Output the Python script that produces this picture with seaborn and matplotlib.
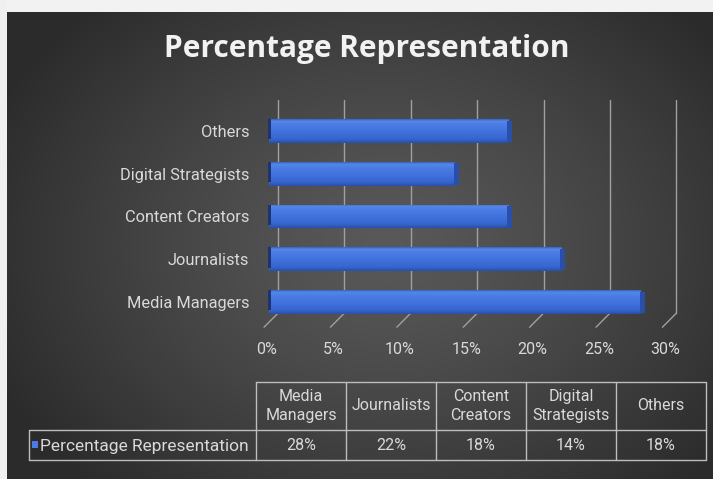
import numpy as np
import pandas as pd
import matplotlib
matplotlib.use("Agg")
import matplotlib.pyplot as plt
from matplotlib.patches import Rectangle
import seaborn as sns

# Chart data
categories = ["Media Managers", "Journalists", "Content Creators", "Digital Strategists", "Others"]
header_labels = ["Media\nManagers", "Journalists", "Content\nCreators", "Digital\nStrategists", "Others"]
values = [28, 22, 18, 14, 18]
x_ticks = [0, 5, 10, 15, 20, 25, 30]
x_tick_labels = ["0%", "5%", "10%", "15%", "20%", "25%", "30%"]
series_name = "Percentage Representation"
title_text = "Percentage Representation"

sns.set_style("white")
plt.rcParams["font.family"] = ["Roboto", "DejaVu Sans"]

W, H = 713, 479
fig = plt.figure(figsize=(W / 100, H / 100), dpi=100)

# Background: dark radial gradient with a light margin on top and left
bg = fig.add_axes([0, 0, 1, 1], zorder=-10)
yy, xx = np.mgrid[0:H, 0:W]
r = np.sqrt(((xx - 385) / 430.0) ** 2 + ((yy - 245) / 330.0) ** 2)
t = np.clip(r, 0, 1) ** 1.25
inner, outer = 0x59 / 255, 0x2b / 255
g = inner + (outer - inner) * t
img = np.dstack([g, g, g])
img[:12, :, :] = 0xf2 / 255
img[:, :7, :] = 0xf0 / 255
bg.imshow(img, extent=[0, W, H, 0], aspect="auto", interpolation="bilinear")
bg.set_xlim(0, W)
bg.set_ylim(H, 0)
bg.axis("off")

# Main bar axes, placed in pixel space
PX_PER_PCT = 13.28
X0_PX = 269.0
Y0_PX, Y_STEP = 131.0, 42.75
xlim = (-1.5, 32.0)
ylim = (4.75, -0.9)
left_px = X0_PX + xlim[0] * PX_PER_PCT
right_px = X0_PX + xlim[1] * PX_PER_PCT
top_px = Y0_PX + ylim[1] * Y_STEP
bot_px = Y0_PX + ylim[0] * Y_STEP
ax = fig.add_axes([left_px / W, 1 - bot_px / H, (right_px - left_px) / W, (bot_px - top_px) / H])
ax.set_facecolor("none")

df = pd.DataFrame({"role": categories, "pct": values})
order = categories[::-1]
sns.barplot(data=df, y="role", x="pct", order=order, orient="h",
            color="#4172dc", width=0.56, ax=ax, zorder=3, saturation=1,
            linewidth=0, edgecolor="none")
ax.set_xlim(*xlim)
ax.set_ylim(*ylim)

# Gridlines drawn as back-wall verticals with slanted floor segments
back = 9 / PX_PER_PCT
front = -5 / PX_PER_PCT
for v in x_ticks:
    ax.plot([v + back, v + back], [-0.72, 4.26], color="#a0a0a0", lw=1.0, zorder=1)
    ax.plot([v + back, v + front], [4.26, 4.59], color="#a0a0a0", lw=1.0, zorder=1)

# Cylinder-like shading on every bar
stops = np.array([0.0, 0.08, 0.25, 0.55, 0.85, 1.0])
cols = np.array([
    [0x3a, 0x62, 0xbe],
    [0x55, 0x86, 0xea],
    [0x4b, 0x7c, 0xe4],
    [0x40, 0x71, 0xdc],
    [0x36, 0x64, 0xcc],
    [0x2a, 0x4f, 0xa6],
]) / 255
n = 64
s = np.linspace(0, 1, n)
grad = np.stack([np.interp(s, stops, cols[:, k]) for k in range(3)], axis=-1)[:, None, :]
for p in list(ax.patches):
    x0, y0, w, h = p.get_x(), p.get_y(), p.get_width(), p.get_height()
    im = ax.imshow(grad, extent=[x0, x0 + w, y0 + h, y0], aspect="auto",
                   interpolation="bilinear", zorder=4)
    im.set_clip_path(p)
    ax.add_patch(Rectangle((x0 + w - 0.1, y0 + 0.04), 0.4, h - 0.06,
                           color="#2a4fa8", zorder=5, lw=0))
    ax.add_patch(Rectangle((x0 - 0.05, y0), 0.2, h * 0.85, color="#1d3470", zorder=5, lw=0))
ax.set_xlim(*xlim)
ax.set_ylim(*ylim)

ax.set_xlabel("")
ax.set_ylabel("")
ax.set_xticks([v - 0.15 for v in x_ticks])
ax.set_xticklabels(x_tick_labels)
ax.tick_params(axis="x", length=0, pad=6, labelsize=11.5, labelcolor="#d9d9d9")
ax.tick_params(axis="y", length=0, pad=0, labelsize=11.8, labelcolor="#d9d9d9")
for sp in ax.spines.values():
    sp.set_visible(False)

# Overlay in pixel coordinates for the title and the data table
ov = fig.add_axes([0, 0, 1, 1], zorder=5)
ov.set_xlim(0, W)
ov.set_ylim(H, 0)
ov.axis("off")
ov.patch.set_alpha(0)

ov.text(367, 49, title_text, ha="center", va="center", fontsize=21.5, fontweight="bold",
        color="#f2f2f2", family=["Open Sans", "DejaVu Sans"])

line_kw = dict(color="#bdbdbd", lw=1.0)
col_edges = [256 + 90 * i for i in range(len(categories) + 1)]
y_top, y_mid, y_bot = 382, 430, 460
ov.plot([col_edges[0], col_edges[-1]], [y_top, y_top], **line_kw)
ov.plot([29, col_edges[-1]], [y_mid, y_mid], **line_kw)
ov.plot([29, col_edges[-1]], [y_bot, y_bot], **line_kw)
ov.plot([29, 29], [y_mid, y_bot], **line_kw)
for xe in col_edges:
    ov.plot([xe, xe], [y_top, y_bot], **line_kw)

for i, (lab, v) in enumerate(zip(header_labels, values)):
    cx = (col_edges[i] + col_edges[i + 1]) / 2
    ov.text(cx, (y_top + y_mid) / 2, lab, ha="center", va="center", fontsize=11.5,
            color="#d9d9d9", linespacing=1.4)
    ov.text(cx, (y_mid + y_bot) / 2 + 1, f"{v}%", ha="center", va="center", fontsize=11.5,
            color="#d9d9d9")

ov.add_patch(Rectangle((32, 441), 6, 7, color="#4a7be6", lw=0))
ov.text(40, (y_mid + y_bot) / 2 + 1, series_name, ha="left", va="center", fontsize=12.5,
        color="#d9d9d9")

fig.savefig("out.png", dpi=100)
